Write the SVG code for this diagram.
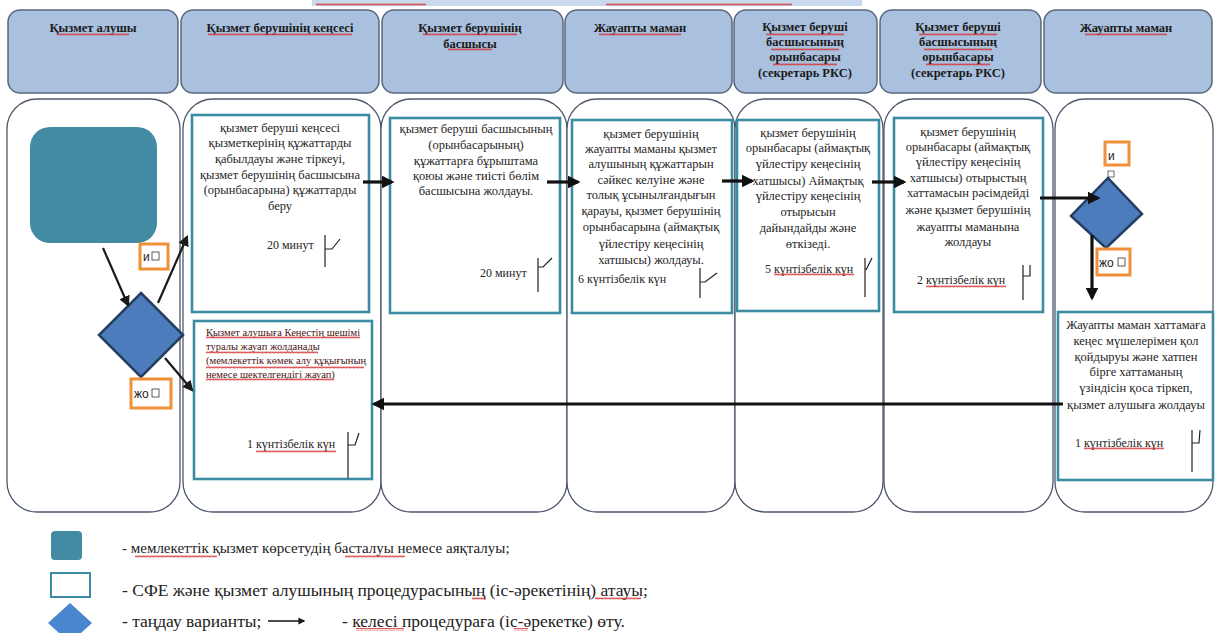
<svg xmlns="http://www.w3.org/2000/svg" width="1217" height="633" viewBox="0 0 1217 633">
<style>
.hdr{fill:#a9c0de;stroke:#59687c;stroke-width:1.5}
.lane{fill:#fff;stroke:#4e586c;stroke-width:1.3}
.proc{fill:#fff;stroke:#3a8ca2;stroke-width:2.6}
.start{fill:#438ba3}
.dia{fill:#4c7cbc;stroke:#233e60;stroke-width:2.5}
.lbl{fill:#fff;stroke:#f0903a;stroke-width:3}
text{font-family:'Liberation Serif','Times New Roman','DejaVu Serif',serif}
.ht{font-size:12.5px;font-weight:bold;fill:#1b1b1b;text-anchor:middle}
.bt{font-size:12.5px;fill:#262626;text-anchor:middle}
.tm{font-size:12px;fill:#262626}
.rt{font-size:10.5px;fill:#4a1414}
.lt{font-family:'Liberation Sans','Arial',sans-serif;font-size:12px;fill:#222}
.lg{font-size:15px;fill:#222}
.lg2{font-size:17.5px;fill:#222}
.flag{fill:none;stroke:#222;stroke-width:1.2}
.ar{fill:none;stroke:#111;stroke-width:3.2}
.ars{fill:none;stroke:#1a1a1a;stroke-width:2.2}
.wv{fill:url(#wave)}
</style>
<defs>
<pattern id="wave" x="0" y="0" width="4" height="3" patternUnits="userSpaceOnUse"><path d="M0,2.4 L1,0.6 L2,2.4 L3,0.6 L4,2.4" fill="none" stroke="#d83030" stroke-width="0.8"/></pattern>
<marker id="ah" viewBox="0 0 10 10" refX="8" refY="5" markerWidth="4" markerHeight="4" orient="auto-start-reverse"><path d="M0,0 L10,5 L0,10 z" fill="#111"/></marker>
<marker id="ahs" viewBox="0 0 10 10" refX="8" refY="5" markerWidth="5" markerHeight="5" orient="auto-start-reverse"><path d="M0,0 L10,5 L0,10 z" fill="#1a1a1a"/></marker>
</defs>

<rect x="312" y="0" width="550" height="6" fill="#c9d9ee"/>
<rect class="wv" x="316" y="3" width="110" height="3"/>
<rect class="wv" x="606" y="3" width="186" height="3"/>

<g id="headers">
<g id="h1"><rect class="hdr" x="8" y="10" width="170" height="83" rx="12"/><text class="ht" x="93" y="32">Қызмет алушы</text></g>
<g id="h2"><rect class="hdr" x="181" y="10" width="198" height="83" rx="12"/><text class="ht" x="280" y="32">Қызмет берушінің кеңсесі</text></g>
<g id="h3"><rect class="hdr" x="382" y="10" width="181" height="83" rx="12"/><text class="ht" x="470" y="32">Қызмет берушінің</text><text class="ht" x="470" y="48">басшысы</text></g>
<g id="h4"><rect class="hdr" x="565" y="10" width="167" height="83" rx="12"/><text class="ht" x="640" y="32">Жауапты маман</text></g>
<g id="h5"><rect class="hdr" x="734" y="10" width="143" height="83" rx="12"/><text class="ht" x="805" y="31">Қызмет беруші</text><text class="ht" x="805" y="46">басшысының</text><text class="ht" x="805" y="61">орынбасары</text><text class="ht" x="805" y="77">(секретарь РКС)</text></g>
<g id="h6"><rect class="hdr" x="880" y="10" width="161" height="83" rx="12"/><text class="ht" x="958" y="31">Қызмет беруші</text><text class="ht" x="958" y="46">басшысының</text><text class="ht" x="958" y="61">орынбасары</text><text class="ht" x="958" y="77">(секретарь РКС)</text></g>
<g id="h7"><rect class="hdr" x="1044" y="10" width="168" height="83" rx="12"/><text class="ht" x="1126" y="32">Жауапты маман</text></g>
<g id="hdr-wave">
<rect class="wv" x="57" y="33" width="72" height="3"/>
<rect class="wv" x="208" y="33" width="144" height="3"/>
<rect class="wv" x="423" y="33" width="94" height="3"/><rect class="wv" x="448" y="48" width="44" height="3"/>
<rect class="wv" x="599" y="33" width="82" height="3"/>
<rect class="wv" x="766" y="33" width="78" height="3"/><rect class="wv" x="771" y="48" width="68" height="3"/><rect class="wv" x="773" y="63" width="64" height="3"/>
<rect class="wv" x="919" y="33" width="78" height="3"/><rect class="wv" x="924" y="48" width="68" height="3"/><rect class="wv" x="926" y="63" width="64" height="3"/>
<rect class="wv" x="1085" y="33" width="82" height="3"/>
</g>
</g>

<g id="lanes">
<rect class="lane" x="7" y="99" width="173" height="413" rx="30"/>
<rect class="lane" x="183" y="99" width="198" height="413" rx="30"/>
<rect class="lane" x="381" y="99" width="186" height="413" rx="30"/>
<rect class="lane" x="567" y="99" width="168" height="413" rx="30"/>
<rect class="lane" x="735" y="99" width="148" height="413" rx="30"/>
<rect class="lane" x="884" y="99" width="169" height="413" rx="30"/>
<rect class="lane" x="1055" y="99" width="158" height="413" rx="30"/>
</g>

<g id="start"><rect class="start" x="30" y="127" width="127" height="116" rx="20"/></g>

<g id="decision1">
<polygon class="dia" points="141,293 183,335 141,377 99,335"/>
</g>
<g id="label-yes1"><rect class="lbl" x="140" y="244" width="28" height="25"/><text class="lt" x="143" y="261">и</text><rect x="152" y="252" width="7" height="8" fill="none" stroke="#333" stroke-width="0.8"/></g>
<g id="label-no1"><rect class="lbl" x="131" y="379" width="40" height="29"/><text class="lt" x="134" y="398">жо</text><rect x="152" y="389" width="7" height="8" fill="none" stroke="#333" stroke-width="0.8"/></g>

<g id="box2a">
<rect class="proc" x="192" y="115" width="177" height="197"/>
<text class="bt" x="280" y="132">қызмет беруші кеңсесі</text>
<text class="bt" x="280" y="147">қызметкерінің құжаттарды</text>
<text class="bt" x="280" y="163">қабылдауы және тіркеуі,</text>
<text class="bt" x="280" y="179">қызмет берушінің басшысына</text>
<text class="bt" x="280" y="194">(орынбасарына) құжаттарды</text>
<text class="bt" x="280" y="210">беру</text>
<text class="tm" x="267" y="249">20 минут</text>
<path class="flag" d="M325,235 V267 M325,249 H332 L340,239"/>
</g>

<g id="box2b">
<rect class="proc" x="194" y="321" width="178" height="158"/>
<text class="rt" x="206" y="336">Қызмет алушыға  Кеңестің шешімі</text>
<text class="rt" x="206" y="350">туралы жауап жолданады</text>
<text class="rt" x="206" y="364">(мемлекеттік көмек алу құқығының</text>
<text class="rt" x="206" y="378">немесе шектелгендігі жауап)</text>
<rect class="wv" x="206" y="336" width="154" height="3"/>
<rect class="wv" x="206" y="351" width="112" height="3"/>
<rect class="wv" x="206" y="366" width="158" height="3"/>
<rect class="wv" x="206" y="378" width="128" height="3"/>
<text class="tm" x="247" y="448">1 күнтізбелік күн</text>
<rect class="wv" x="256" y="450" width="80" height="3"/>
<path class="flag" d="M348,432 V478 M348,445 H355 L359,433"/>
</g>

<g id="box3">
<rect class="proc" x="390" y="118" width="170" height="195"/>
<text class="bt" x="476" y="133">қызмет беруші басшысының</text>
<text class="bt" x="476" y="149">(орынбасарының)</text>
<text class="bt" x="476" y="165">құжаттарға бұрыштама</text>
<text class="bt" x="476" y="180">қоюы және тиісті бөлім</text>
<text class="bt" x="476" y="195">басшысына жолдауы.</text>
<text class="tm" x="480" y="277">20 минут</text>
<path class="flag" d="M538,258 V292 M538,267 H543 L552,258"/>
</g>

<g id="box4">
<rect class="proc" x="572" y="120" width="160" height="193"/>
<text class="bt" x="651" y="138">қызмет берушінің</text>
<text class="bt" x="651" y="153">жауапты маманы қызмет</text>
<text class="bt" x="651" y="168">алушының құжаттарын</text>
<text class="bt" x="651" y="184">сәйкес келуіне және</text>
<text class="bt" x="651" y="199">толық ұсынылғандығын</text>
<text class="bt" x="651" y="215">қарауы, қызмет берушінің</text>
<text class="bt" x="651" y="231">орынбасарына (аймақтық</text>
<text class="bt" x="651" y="248">үйлестіру   кеңесінің</text>
<text class="bt" x="651" y="264">хатшысы) жолдауы.</text>
<text class="tm" x="578" y="283">6 күнтізбелік күн</text>
<path class="flag" d="M700,268 V298 M700,282 H705 L717,273"/>
</g>

<g id="box5">
<rect class="proc" x="737" y="120" width="142" height="191"/>
<text class="bt" x="808" y="137">қызмет берушінің</text>
<text class="bt" x="808" y="152">орынбасары (аймақтық</text>
<text class="bt" x="808" y="168">үйлестіру кеңесінің</text>
<text class="bt" x="808" y="185">хатшысы) Аймақтық</text>
<text class="bt" x="808" y="200">үйлестіру   кеңесінің</text>
<text class="bt" x="808" y="216">отырысын</text>
<text class="bt" x="808" y="232">дайындайды және</text>
<text class="bt" x="808" y="248">өткізеді.</text>
<text class="tm" x="765" y="273">5 күнтізбелік күн</text>
<rect class="wv" x="774" y="273" width="80" height="3"/>
<path class="flag" d="M865,258 V297 M866,270 L872,258"/>
</g>

<g id="box6">
<rect class="proc" x="894" y="118" width="149" height="194"/>
<text class="bt" x="968" y="136">қызмет берушінің</text>
<text class="bt" x="968" y="151">орынбасары (аймақтық</text>
<text class="bt" x="968" y="166">үйлестіру кеңесінің</text>
<text class="bt" x="968" y="182">хатшысы) отырыстың</text>
<text class="bt" x="968" y="197">хаттамасын рәсімдейді</text>
<text class="bt" x="968" y="214">және қызмет берушінің</text>
<text class="bt" x="968" y="231">жауапты маманына</text>
<text class="bt" x="968" y="246">жолдауы</text>
<text class="tm" x="917" y="284">2 күнтізбелік күн</text>
<rect class="wv" x="926" y="285" width="80" height="3"/>
<path class="flag" d="M1023,265 V300 M1023,276 H1030 V265"/>
</g>

<g id="decision2">
<polygon class="dia" points="1108,178 1142,214 1106,248 1071,216"/>
</g>
<g id="label-yes2"><rect class="lbl" x="1105" y="142" width="24" height="23"/><text class="lt" x="1108" y="160" fill="#4a1a6a">и</text><rect x="1108" y="171" width="6" height="6" fill="none" stroke="#333" stroke-width="0.7"/></g>
<g id="label-no2"><rect class="lbl" x="1097" y="249" width="33" height="26"/><text class="lt" x="1099" y="267">жо</text><rect x="1118" y="258" width="7" height="8" fill="none" stroke="#333" stroke-width="0.8"/></g>

<g id="box7">
<rect class="proc" x="1058" y="312" width="155" height="168"/>
<text class="bt" x="1136" y="329">Жауапты маман хаттамаға</text>
<text class="bt" x="1136" y="345">кеңес мүшелерімен қол</text>
<text class="bt" x="1136" y="361">қойдыруы және хатпен</text>
<text class="bt" x="1136" y="376">бірге хаттаманың</text>
<text class="bt" x="1136" y="392">үзіндісін қоса тіркеп,</text>
<text class="bt" x="1136" y="409">қызмет алушыға жолдауы</text>
<text class="tm" x="1075" y="447">1 күнтізбелік күн</text>
<rect class="wv" x="1084" y="447" width="80" height="3"/>
<path class="flag" d="M1192,430 V472 M1192,443 H1199 L1200,430"/>
</g>

<g id="connectors">
<line class="ars" x1="103" y1="248" x2="128" y2="305" marker-end="url(#ahs)"/>
<line class="ars" x1="158" y1="303" x2="187" y2="237" marker-end="url(#ahs)"/>
<line class="ars" x1="165" y1="358" x2="192" y2="390" marker-end="url(#ahs)"/>
<line class="ar" x1="363" y1="182" x2="392" y2="182" marker-end="url(#ah)"/>
<line class="ar" x1="547" y1="182" x2="578" y2="182" marker-end="url(#ah)"/>
<line class="ar" x1="722" y1="181" x2="752" y2="181" marker-end="url(#ah)"/>
<line class="ar" x1="872" y1="182" x2="904" y2="182" marker-end="url(#ah)"/>
<line class="ar" x1="1040" y1="198" x2="1098" y2="198" marker-end="url(#ah)"/>
<line class="ar" x1="1092" y1="235" x2="1092" y2="298" marker-end="url(#ah)"/>
<line class="ar" x1="1063" y1="404" x2="374" y2="404" marker-end="url(#ah)"/>
</g>

<g id="legend">
<rect class="start" x="51" y="531" width="31" height="29" rx="4"/>
<text class="lg" x="122" y="553">- мемлекеттік қызмет көрсетудің басталуы немесе аяқталуы;</text>
<rect class="wv" x="135" y="555" width="82" height="3"/>
<rect class="wv" x="345" y="555" width="60" height="3"/>
<rect x="51" y="573" width="39" height="24" fill="#fff" stroke="#3a8ca2" stroke-width="2"/>
<text class="lg2" x="122" y="596">- СФЕ және қызмет алушының процедурасының (іс-әрекетінің) атауы;</text>
<rect class="wv" x="472" y="597" width="14" height="3"/>
<rect class="wv" x="595" y="597" width="46" height="3"/>
<polygon points="70,603 92,623 70,643 48,623" fill="#4a86d0"/>
<text class="lg2" x="122" y="627">- таңдау варианты;</text>
<line x1="268" y1="621" x2="304" y2="621" stroke="#111" stroke-width="1.4" marker-end="url(#ahs)"/>
<text class="lg2" x="342" y="627">- келесі процедураға (іс-әрекетке) өту.</text>
<rect class="wv" x="356" y="628" width="48" height="3"/>
<rect class="wv" x="514" y="628" width="14" height="3"/>
</g>
</svg>
